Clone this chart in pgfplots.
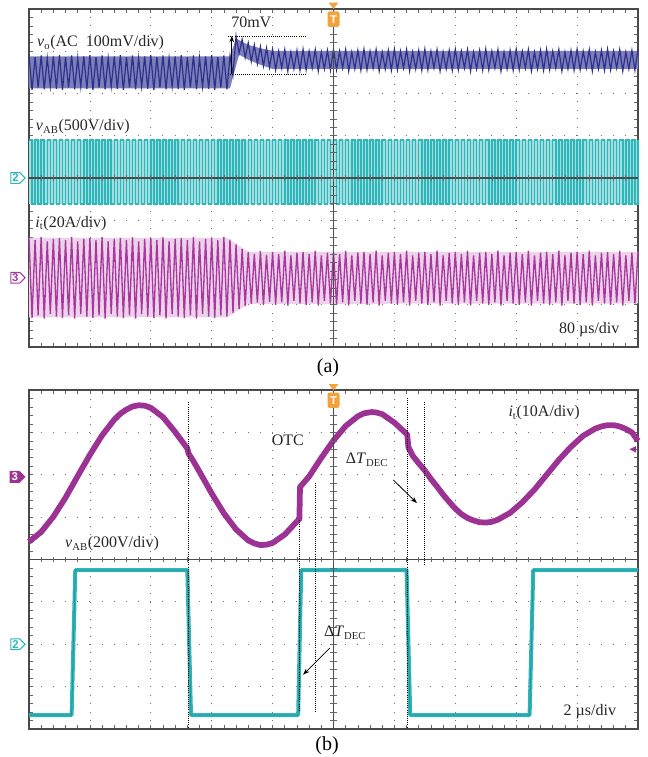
\documentclass[border=0pt]{standalone}
\usepackage{fontspec}
\setmainfont{Liberation Serif}
\newfontfamily\mkfont{Liberation Sans}
\usepackage{pgfplots}
\pgfplotsset{compat=1.18}
\usetikzlibrary{arrows.meta,shapes.symbols}

\definecolor{vblue}{HTML}{2D308C}
\definecolor{cyanT}{HTML}{2FB6BA}
\definecolor{cyanD}{HTML}{1C858B}
\definecolor{magA}{HTML}{A8389F}
\definecolor{magB}{HTML}{9C3294}
\definecolor{orT}{HTML}{F2A23A}
\definecolor{frm}{HTML}{4A4A4A}

\newcommand\lab{\fontsize{12pt}{14pt}\selectfont}
\newcommand\mk{\mkfont\bfseries\fontsize{8.5pt}{9pt}\selectfont}

% oscilloscope graticule: 10 x 8 divisions
\pgfplotsset{osc/.style={
  scale only axis, width=456.75pt,
  xmin=0, xmax=10, ymin=-4, ymax=4,
  xtick={0,...,10}, ytick={-4,...,4},
  minor x tick num=4, minor y tick num=4,
  xticklabels={}, yticklabels={},
  tick align=inside, xtick pos=both, ytick pos=both,
  major tick length=3pt, minor tick length=3pt,
  tick style={black!60, line width=0.5pt},
  grid=major,
  major x grid style={black!55, line width=0.6pt, dash pattern=on 0.7pt off 5.64pt, dash phase=0.35pt},
  major y grid style={black!55, line width=0.6pt, dash pattern=on 0.7pt off 8.43pt, dash phase=0.35pt},
  axis line style={frm, line width=1.4pt},
  clip=false, no markers,
}}
\tikzset{
  chan/.style={signal, signal to=east, draw=#1, text=#1, fill=white, line width=0.8pt,
    inner sep=1pt, font=\mk, anchor=east},
  chanf/.style={signal, signal to=east, fill=#1, text=white, inner sep=1.4pt, font=\mk, anchor=east},
  tlab/.style={font=\lab, inner sep=0pt, text=black!85},
  annot/.style={black, line width=0.6pt, dash pattern=on 0.7pt off 0.9pt},
  tmark/.style={fill=orT, rounded corners=1.5pt, text=white, font=\mk, inner sep=0.8pt,
    minimum width=9pt, minimum height=11.5pt},
}
\newcommand\crosshair{%
  \draw[frm, line width=0.9pt] (axis cs:0,0) -- (axis cs:10,0);
  \draw[frm, line width=0.9pt] (axis cs:5,-4) -- (axis cs:5,4);
  \pgfplotsinvokeforeach{0.2,0.4,...,9.8}{\draw[black!60, line width=0.5pt] (axis cs:##1,-0.07) -- (axis cs:##1,0.07);}
  \pgfplotsinvokeforeach{-3.8,-3.6,...,3.8}{\draw[black!60, line width=0.5pt] (axis cs:4.95,##1) -- (axis cs:5.05,##1);}
}

\begin{document}
\begin{tikzpicture}
\path[use as bounding box] (0,0) rectangle (485.25pt,567.75pt);

% ---------------- (a) ----------------
\begin{axis}[osc, height=253.5pt, at={(21.75pt,307.5pt)}, anchor=south west]
% v_o band
\addplot[fill=vblue!62!white, draw=none] coordinates {
  (0,2.88)(3.3,2.88)(3.4,3.30)(3.6,3.15)(3.8,3.07)(4,3.01)(10,3.01)
  (10,2.58)(4,2.58)(3.8,2.68)(3.6,2.80)(3.45,2.92)(3.37,2.5)(3.3,2.12)(0,2.12)} --cycle;
\addplot[vblue, line width=0.9pt] coordinates {
(0,2.91)(.05,2.08)(.1,2.86)(.15,2.14)(.2,2.90)(.25,2.10)(.3,2.84)(.35,2.16)(.4,2.88)(.45,2.11)
(.5,2.91)(.55,2.08)(.6,2.86)(.65,2.14)(.7,2.90)(.75,2.10)(.8,2.84)(.85,2.16)(.9,2.88)(.95,2.11)
(1,2.91)(1.05,2.08)(1.1,2.86)(1.15,2.14)(1.2,2.90)(1.25,2.10)(1.3,2.84)(1.35,2.16)(1.4,2.88)(1.45,2.11)
(1.5,2.91)(1.55,2.08)(1.6,2.86)(1.65,2.14)(1.7,2.90)(1.75,2.10)(1.8,2.84)(1.85,2.16)(1.9,2.88)(1.95,2.11)
(2,2.91)(2.05,2.08)(2.1,2.86)(2.15,2.14)(2.2,2.90)(2.25,2.10)(2.3,2.84)(2.35,2.16)(2.4,2.88)(2.45,2.11)
(2.5,2.91)(2.55,2.08)(2.6,2.86)(2.65,2.14)(2.7,2.90)(2.75,2.10)(2.8,2.84)(2.85,2.16)(2.9,2.88)(2.95,2.11)
(3,2.91)(3.05,2.08)(3.1,2.86)(3.15,2.14)(3.2,2.90)(3.25,2.10)
(3.3,2.88)(3.35,2.45)(3.4,3.36)(3.45,2.95)(3.5,3.28)(3.55,2.85)(3.6,3.20)(3.65,2.76)(3.7,3.15)(3.75,2.70)
(3.8,3.11)(3.85,2.65)(3.9,3.08)(3.95,2.62)
(4,3.05)(4.05,2.56)(4.1,3.00)(4.15,2.60)(4.2,3.04)(4.25,2.53)(4.3,2.98)(4.35,2.58)(4.4,3.02)(4.45,2.55)
(4.5,3.05)(4.55,2.56)(4.6,3.00)(4.65,2.60)(4.7,3.04)(4.75,2.53)(4.8,2.98)(4.85,2.58)(4.9,3.02)(4.95,2.55)
(5,3.05)(5.05,2.56)(5.1,3.00)(5.15,2.60)(5.2,3.04)(5.25,2.53)(5.3,2.98)(5.35,2.58)(5.4,3.02)(5.45,2.55)
(5.5,3.05)(5.55,2.56)(5.6,3.00)(5.65,2.60)(5.7,3.04)(5.75,2.53)(5.8,2.98)(5.85,2.58)(5.9,3.02)(5.95,2.55)
(6,3.05)(6.05,2.56)(6.1,3.00)(6.15,2.60)(6.2,3.04)(6.25,2.53)(6.3,2.98)(6.35,2.58)(6.4,3.02)(6.45,2.55)
(6.5,3.05)(6.55,2.56)(6.6,3.00)(6.65,2.60)(6.7,3.04)(6.75,2.53)(6.8,2.98)(6.85,2.58)(6.9,3.02)(6.95,2.55)
(7,3.05)(7.05,2.56)(7.1,3.00)(7.15,2.60)(7.2,3.04)(7.25,2.53)(7.3,2.98)(7.35,2.58)(7.4,3.02)(7.45,2.55)
(7.5,3.05)(7.55,2.56)(7.6,3.00)(7.65,2.60)(7.7,3.04)(7.75,2.53)(7.8,2.98)(7.85,2.58)(7.9,3.02)(7.95,2.55)
(8,3.05)(8.05,2.56)(8.1,3.00)(8.15,2.60)(8.2,3.04)(8.25,2.53)(8.3,2.98)(8.35,2.58)(8.4,3.02)(8.45,2.55)
(8.5,3.05)(8.55,2.56)(8.6,3.00)(8.65,2.60)(8.7,3.04)(8.75,2.53)(8.8,2.98)(8.85,2.58)(8.9,3.02)(8.95,2.55)
(9,3.05)(9.05,2.56)(9.1,3.00)(9.15,2.60)(9.2,3.04)(9.25,2.53)(9.3,2.98)(9.35,2.58)(9.4,3.02)(9.45,2.55)
(9.5,3.05)(9.55,2.56)(9.6,3.00)(9.65,2.60)(9.7,3.04)(9.75,2.53)(9.8,2.98)(9.85,2.58)(9.9,3.02)(9.95,2.55)
(10,3.05)};
% v_AB square wave: light band behind the switching edges
\addplot[fill=cyanT!45!white, draw=none] coordinates {(0,-0.62)(10,-0.62)(10,0.9)(0,0.9)} --cycle;
\addplot[const plot, cyanT, line width=1.1pt] coordinates {
(0,.9)(.05,-.62)(.1,.9)(.15,-.62)(.2,.9)(.25,-.62)(.3,.9)(.35,-.62)(.4,.9)(.45,-.62)
(.5,.9)(.55,-.62)(.6,.9)(.65,-.62)(.7,.9)(.75,-.62)(.8,.9)(.85,-.62)(.9,.9)(.95,-.62)
(1,.9)(1.05,-.62)(1.1,.9)(1.15,-.62)(1.2,.9)(1.25,-.62)(1.3,.9)(1.35,-.62)(1.4,.9)(1.45,-.62)
(1.5,.9)(1.55,-.62)(1.6,.9)(1.65,-.62)(1.7,.9)(1.75,-.62)(1.8,.9)(1.85,-.62)(1.9,.9)(1.95,-.62)
(2,.9)(2.05,-.62)(2.1,.9)(2.15,-.62)(2.2,.9)(2.25,-.62)(2.3,.9)(2.35,-.62)(2.4,.9)(2.45,-.62)
(2.5,.9)(2.55,-.62)(2.6,.9)(2.65,-.62)(2.7,.9)(2.75,-.62)(2.8,.9)(2.85,-.62)(2.9,.9)(2.95,-.62)
(3,.9)(3.05,-.62)(3.1,.9)(3.15,-.62)(3.2,.9)(3.25,-.62)(3.3,.9)(3.35,-.62)(3.4,.9)(3.45,-.62)
(3.5,.9)(3.55,-.62)(3.6,.9)(3.65,-.62)(3.7,.9)(3.75,-.62)(3.8,.9)(3.85,-.62)(3.9,.9)(3.95,-.62)
(4,.9)(4.05,-.62)(4.1,.9)(4.15,-.62)(4.2,.9)(4.25,-.62)(4.3,.9)(4.35,-.62)(4.4,.9)(4.45,-.62)
(4.5,.9)(4.55,-.62)(4.6,.9)(4.65,-.62)(4.7,.9)(4.75,-.62)(4.8,.9)(4.85,-.62)(4.9,.9)(4.95,-.62)
(5,.9)(5.05,-.62)(5.1,.9)(5.15,-.62)(5.2,.9)(5.25,-.62)(5.3,.9)(5.35,-.62)(5.4,.9)(5.45,-.62)
(5.5,.9)(5.55,-.62)(5.6,.9)(5.65,-.62)(5.7,.9)(5.75,-.62)(5.8,.9)(5.85,-.62)(5.9,.9)(5.95,-.62)
(6,.9)(6.05,-.62)(6.1,.9)(6.15,-.62)(6.2,.9)(6.25,-.62)(6.3,.9)(6.35,-.62)(6.4,.9)(6.45,-.62)
(6.5,.9)(6.55,-.62)(6.6,.9)(6.65,-.62)(6.7,.9)(6.75,-.62)(6.8,.9)(6.85,-.62)(6.9,.9)(6.95,-.62)
(7,.9)(7.05,-.62)(7.1,.9)(7.15,-.62)(7.2,.9)(7.25,-.62)(7.3,.9)(7.35,-.62)(7.4,.9)(7.45,-.62)
(7.5,.9)(7.55,-.62)(7.6,.9)(7.65,-.62)(7.7,.9)(7.75,-.62)(7.8,.9)(7.85,-.62)(7.9,.9)(7.95,-.62)
(8,.9)(8.05,-.62)(8.1,.9)(8.15,-.62)(8.2,.9)(8.25,-.62)(8.3,.9)(8.35,-.62)(8.4,.9)(8.45,-.62)
(8.5,.9)(8.55,-.62)(8.6,.9)(8.65,-.62)(8.7,.9)(8.75,-.62)(8.8,.9)(8.85,-.62)(8.9,.9)(8.95,-.62)
(9,.9)(9.05,-.62)(9.1,.9)(9.15,-.62)(9.2,.9)(9.25,-.62)(9.3,.9)(9.35,-.62)(9.4,.9)(9.45,-.62)
(9.5,.9)(9.55,-.62)(9.6,.9)(9.65,-.62)(9.7,.9)(9.75,-.62)(9.8,.9)(9.85,-.62)(9.9,.9)(9.95,-.62)
(10,.9)};
% i_t: light band behind the oscillation
\addplot[fill=magA!22!white, draw=none] coordinates {
  (0,-1.42)(3.25,-1.42)(3.6,-1.75)(10,-1.75)(10,-2.97)(3.6,-2.98)(3.25,-3.3)(0,-3.3)} --cycle;
\addplot[magA, line width=1.0pt] coordinates {
(0,-1.42)(.05,-3.31)(.1,-1.47)(.15,-3.25)(.2,-1.40)(.25,-3.33)(.3,-1.50)(.35,-3.22)(.4,-1.44)(.45,-3.28)
(.5,-1.42)(.55,-3.31)(.6,-1.47)(.65,-3.25)(.7,-1.40)(.75,-3.33)(.8,-1.50)(.85,-3.22)(.9,-1.44)(.95,-3.28)
(1,-1.42)(1.05,-3.31)(1.1,-1.47)(1.15,-3.25)(1.2,-1.40)(1.25,-3.33)(1.3,-1.50)(1.35,-3.22)(1.4,-1.44)(1.45,-3.28)
(1.5,-1.42)(1.55,-3.31)(1.6,-1.47)(1.65,-3.25)(1.7,-1.40)(1.75,-3.33)(1.8,-1.50)(1.85,-3.22)(1.9,-1.44)(1.95,-3.28)
(2,-1.42)(2.05,-3.31)(2.1,-1.47)(2.15,-3.25)(2.2,-1.40)(2.25,-3.33)(2.3,-1.50)(2.35,-3.22)(2.4,-1.44)(2.45,-3.28)
(2.5,-1.42)(2.55,-3.31)(2.6,-1.47)(2.65,-3.25)(2.7,-1.40)(2.75,-3.33)(2.8,-1.50)(2.85,-3.22)(2.9,-1.44)(2.95,-3.28)
(3,-1.42)(3.05,-3.31)(3.1,-1.47)(3.15,-3.25)(3.2,-1.40)(3.25,-3.28)
(3.3,-1.46)(3.35,-3.20)(3.4,-1.57)(3.45,-3.10)(3.5,-1.68)(3.55,-3.03)(3.6,-1.75)(3.65,-2.98)(3.7,-1.80)(3.75,-2.95)
(3.8,-1.73)(3.85,-3.01)(3.9,-1.82)(3.95,-2.93)
(4,-1.75)(4.05,-3.00)(4.1,-1.80)(4.15,-2.94)(4.2,-1.72)(4.25,-3.02)(4.3,-1.83)(4.35,-2.91)(4.4,-1.77)(4.45,-2.97)
(4.5,-1.75)(4.55,-3.00)(4.6,-1.80)(4.65,-2.94)(4.7,-1.72)(4.75,-3.02)(4.8,-1.83)(4.85,-2.91)(4.9,-1.77)(4.95,-2.97)
(5,-1.75)(5.05,-3.00)(5.1,-1.80)(5.15,-2.94)(5.2,-1.72)(5.25,-3.02)(5.3,-1.83)(5.35,-2.91)(5.4,-1.77)(5.45,-2.97)
(5.5,-1.75)(5.55,-3.00)(5.6,-1.80)(5.65,-2.94)(5.7,-1.72)(5.75,-3.02)(5.8,-1.83)(5.85,-2.91)(5.9,-1.77)(5.95,-2.97)
(6,-1.75)(6.05,-3.00)(6.1,-1.80)(6.15,-2.94)(6.2,-1.72)(6.25,-3.02)(6.3,-1.83)(6.35,-2.91)(6.4,-1.77)(6.45,-2.97)
(6.5,-1.75)(6.55,-3.00)(6.6,-1.80)(6.65,-2.94)(6.7,-1.72)(6.75,-3.02)(6.8,-1.83)(6.85,-2.91)(6.9,-1.77)(6.95,-2.97)
(7,-1.75)(7.05,-3.00)(7.1,-1.80)(7.15,-2.94)(7.2,-1.72)(7.25,-3.02)(7.3,-1.83)(7.35,-2.91)(7.4,-1.77)(7.45,-2.97)
(7.5,-1.75)(7.55,-3.00)(7.6,-1.80)(7.65,-2.94)(7.7,-1.72)(7.75,-3.02)(7.8,-1.83)(7.85,-2.91)(7.9,-1.77)(7.95,-2.97)
(8,-1.75)(8.05,-3.00)(8.1,-1.80)(8.15,-2.94)(8.2,-1.72)(8.25,-3.02)(8.3,-1.83)(8.35,-2.91)(8.4,-1.77)(8.45,-2.97)
(8.5,-1.75)(8.55,-3.00)(8.6,-1.80)(8.65,-2.94)(8.7,-1.72)(8.75,-3.02)(8.8,-1.83)(8.85,-2.91)(8.9,-1.77)(8.95,-2.97)
(9,-1.75)(9.05,-3.00)(9.1,-1.80)(9.15,-2.94)(9.2,-1.72)(9.25,-3.02)(9.3,-1.83)(9.35,-2.91)(9.4,-1.77)(9.45,-2.97)
(9.5,-1.75)(9.55,-3.00)(9.6,-1.80)(9.65,-2.94)(9.7,-1.72)(9.75,-3.02)(9.8,-1.83)(9.85,-2.91)(9.9,-1.77)(9.95,-2.97)
(10,-1.75)};
\crosshair
% 70 mV step
\draw[annot] (axis cs:3.27,3.36) -- (axis cs:4.56,3.36);
\draw[annot] (axis cs:3.27,2.46) -- (axis cs:4.56,2.46);
\draw[-{Stealth[length=4.5pt,width=3.5pt]}, line width=0.7pt] (axis cs:3.33,2.46) -- (axis cs:3.33,3.36);
\node[tlab] at (axis cs:3.65,3.69) {70mV};
\node[tlab, anchor=west] at (axis cs:0.13,3.2) {\textit{v}\textsubscript{o}(AC\ \ 100mV/div)};
\node[tlab, anchor=west] at (axis cs:0.11,1.21) {\textit{v}\textsubscript{AB}(500V/div)};
\node[tlab, anchor=west] at (axis cs:0.10,-1.07) {\textit{i}\textsubscript{t}(20A/div)};
\node[tlab] at (axis cs:9.2,-3.6) {80 µs/div};
\node[chan=cyanT] at (axis cs:-0.05,0) {2};
\node[chan=magA] at (axis cs:-0.05,-2.36) {3};
\fill[orT] (axis cs:4.92,4.15) -- (axis cs:5.08,4.15) -- (axis cs:5,4.0) -- cycle;
\node[tmark] at (axis cs:5,3.76) {T};
\end{axis}
\node[font=\fontsize{15pt}{17pt}\selectfont, inner sep=0pt] at (246pt,291.75pt) {(a)};

% ---------------- (b) ----------------
\begin{axis}[osc, height=254.25pt, at={(21.75pt,21pt)}, anchor=south west]
% i_t
\addplot[magB, line width=4.3pt, line join=round] coordinates {
(0,0.42)(0.2,0.65)(0.4,1.01)(0.6,1.46)(0.8,1.97)(1.0,2.47)(1.2,2.93)(1.4,3.30)(1.5,3.44)(1.6,3.54)
(1.7,3.61)(1.8,3.64)(1.9,3.63)(2.0,3.58)(2.2,3.36)(2.4,3.01)(2.6,2.62)(2.62,2.50)(2.7,2.32)(2.8,2.07)
(3.0,1.56)(3.2,1.09)(3.4,0.71)(3.6,0.45)(3.7,0.38)(3.8,0.34)(3.9,0.35)(4.0,0.39)(4.2,0.59)(4.44,0.96)
(4.45,1.71)(4.6,1.96)(4.8,2.40)(5.0,2.81)(5.2,3.15)(5.4,3.38)(5.5,3.45)(5.63,3.48)(5.7,3.47)(5.8,3.43)
(6.0,3.23)(6.21,2.95)(6.23,2.65)(6.3,2.45)(6.4,2.27)(6.5,2.10)(6.6,1.90)(6.7,1.72)(6.8,1.53)(6.9,1.36)
(7.0,1.20)(7.1,1.07)(7.2,0.98)(7.3,0.92)(7.4,0.88)(7.5,0.87)(7.6,0.89)(7.7,0.94)(7.9,1.10)(8.1,1.35)
(8.3,1.65)(8.5,2.00)(8.7,2.35)(8.9,2.66)(9.1,2.92)(9.3,3.09)(9.4,3.14)(9.5,3.17)(9.6,3.17)(9.7,3.14)
(9.8,3.08)(9.9,3.00)(10,2.80)};
% v_AB
\addplot[cyanT, line width=3.0pt, line join=round] coordinates {
(0,-3.67)(0.70,-3.67)(0.76,-0.25)(2.60,-0.25)(2.66,-3.67)(4.42,-3.67)(4.47,-0.25)
(6.20,-0.25)(6.26,-3.67)(8.22,-3.67)(8.28,-0.25)(10,-0.25)};
\addplot[cyanD, line width=0.4pt] coordinates {
(0,-3.67)(0.70,-3.67)(0.76,-0.25)(2.60,-0.25)(2.66,-3.67)(4.42,-3.67)(4.47,-0.25)
(6.20,-0.25)(6.26,-3.67)(8.22,-3.67)(8.28,-0.25)(10,-0.25)};
\crosshair
\draw[annot] (axis cs:2.61,3.71) -- (axis cs:2.61,-3.98);
\draw[annot] (axis cs:4.44,0.93) -- (axis cs:4.44,-3.6);
\draw[annot] (axis cs:4.70,1.80) -- (axis cs:4.70,-3.62);
\draw[annot] (axis cs:6.22,3.81) -- (axis cs:6.22,-3.98);
\draw[annot] (axis cs:6.50,3.71) -- (axis cs:6.50,-0.13);
\node[tlab] at (axis cs:4.25,2.82) {OTC};
\node[tlab, anchor=west] at (axis cs:0.59,0.37) {\textit{v}\textsubscript{AB}(200V/div)};
\node[tlab, anchor=west] at (axis cs:7.87,3.46) {\textit{i}\textsubscript{t}(10A/div)};
\node[tlab] at (axis cs:5.55,2.35) {Δ\textit{T}\textsubscript{DEC}};
\draw[-{Stealth[length=5pt,width=3.5pt]}, line width=0.6pt] (axis cs:5.98,1.88) -- (axis cs:6.37,1.33);
\node[tlab] at (axis cs:5.19,-1.73) {Δ\textit{T}\textsubscript{DEC}};
\draw[-{Stealth[length=5pt,width=3.5pt]}, line width=0.6pt] (axis cs:4.94,-2.09) -- (axis cs:4.50,-2.72);
\node[tlab] at (axis cs:9.21,-3.6) {2 µs/div};
\node[chanf=magB] at (axis cs:-0.05,1.95) {3};
\node[chan=cyanT] at (axis cs:-0.05,-2.0) {2};
\fill[magB] (axis cs:9.86,2.6) -- (axis cs:9.97,2.68) -- (axis cs:9.97,2.52) -- cycle;
\fill[orT] (axis cs:4.92,4.14) -- (axis cs:5.08,4.14) -- (axis cs:5,3.99) -- cycle;
\node[tmark] at (axis cs:5,3.76) {T};
\end{axis}
\node[font=\fontsize{15pt}{17pt}\selectfont, inner sep=0pt] at (245.25pt,8.5pt) {(b)};
\end{tikzpicture}
\end{document}
